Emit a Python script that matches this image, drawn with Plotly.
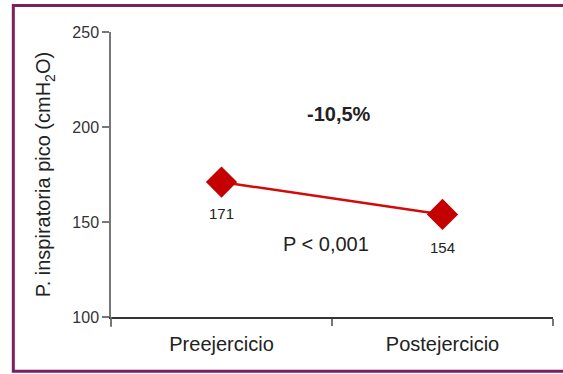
import plotly.graph_objects as go

# Peak inspiratory pressure before and after exercise
fases = ["Preejercicio", "Postejercicio"]
presion = [171, 154]
etiquetas = ["171", "154"]
y_ticks = [100, 150, 200, 250]
cambio = "-10,5%"
p_valor = "P < 0,001"

FONT = "Liberation Sans, Arial, Helvetica"

fig = go.Figure()
fig.add_trace(go.Scatter(
    x=fases, y=presion, mode="lines+markers",
    line=dict(color="#d10a0a", width=2.5),
    marker=dict(symbol="diamond", size=24, color="#c40000"),
    hoverinfo="skip", showlegend=False,
))

# value labels under each point
for f, v, t, dy in zip(fases, presion, etiquetas, [-31, -33]):
    fig.add_annotation(x=f, y=v, text=t, showarrow=False, yshift=dy,
                       font=dict(family=FONT, size=15, color="#222"))

fig.add_annotation(x=0.5, y=207, text="<b>" + cambio + "</b>", showarrow=False, xshift=7,
                   font=dict(family=FONT, size=20, color="#222"))
fig.add_annotation(x=0.5, y=138.5, text=p_valor, showarrow=False, xshift=-6,
                   font=dict(family=FONT, size=20, color="#222"))

# frame around the figure
fig.add_shape(type="rect", xref="paper", yref="paper",
              x0=-0.221, x1=1.08, y0=-0.19, y1=1.093,
              line=dict(color="#7d1f5f", width=3), layer="below")
# y axis line runs a little below the x axis
fig.add_shape(type="line", xref="paper", yref="paper",
              x0=0, x1=0, y0=-0.035, y1=0,
              line=dict(color="#777", width=1.5))

fig.update_xaxes(
    range=[-0.5, 1.5], showgrid=False, zeroline=False,
    showline=True, linecolor="#333", linewidth=1.5,
    ticks="outside", tickson="boundaries", ticklen=7, tickcolor="#777", tickwidth=1.5,
    ticklabelstandoff=8,
    tickfont=dict(family=FONT, size=20, color="#222"),
)
fig.update_yaxes(
    range=[100, 250], tickvals=y_ticks, showgrid=False, zeroline=False,
    showline=True, linecolor="#777", linewidth=1.5,
    ticks="outside", ticklen=7, tickcolor="#777", tickwidth=1.5,
    tickfont=dict(family=FONT, size=16, color="#333"),
    title=dict(text="P. inspiratoria pico (cmH<sub>2</sub>O)", standoff=16,
               font=dict(family=FONT, size=20, color="#222")),
)
fig.update_layout(
    width=563, height=374,
    margin=dict(l=111, r=10, t=32, b=57),
    paper_bgcolor="white", plot_bgcolor="white",
)
fig.write_html("out.html")
